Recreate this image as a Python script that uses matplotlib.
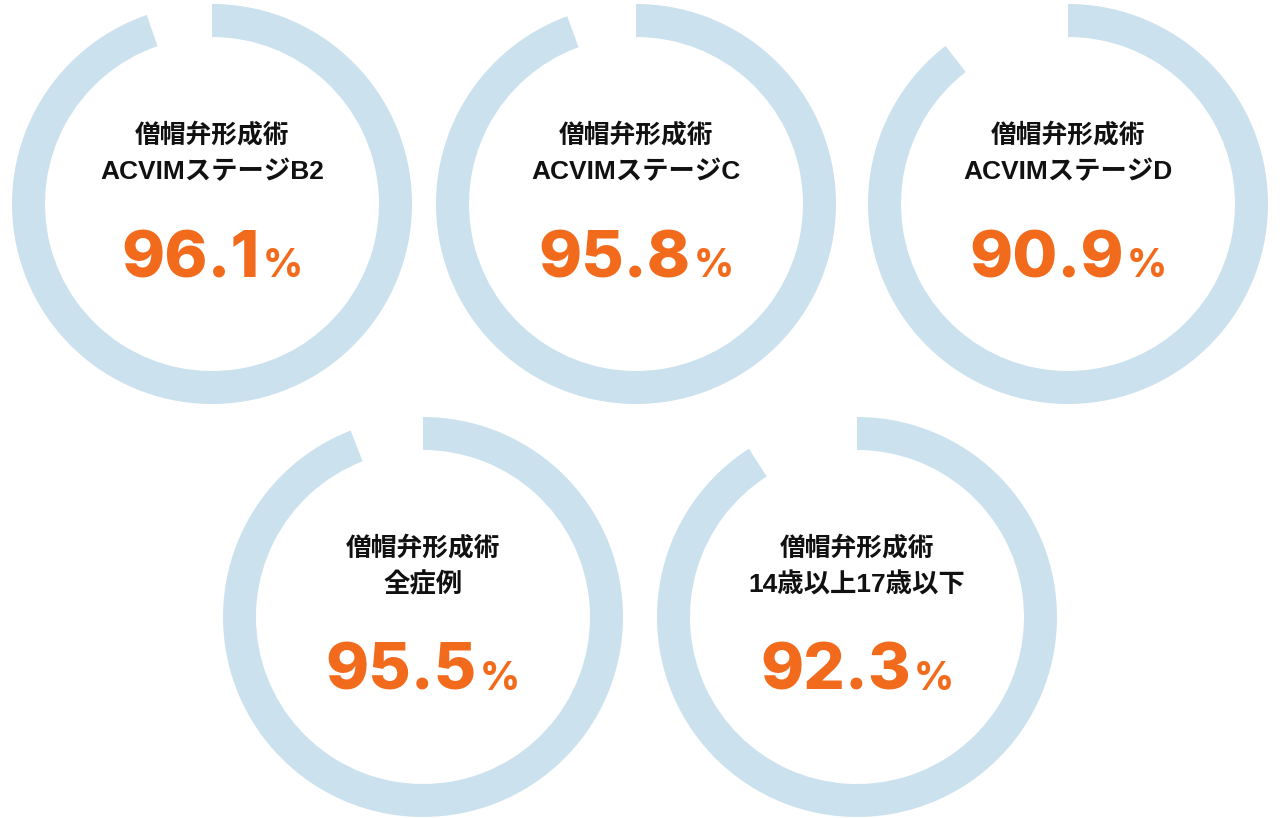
import matplotlib
matplotlib.use('Agg')
import matplotlib.pyplot as plt
from matplotlib.patches import Wedge

# data
titles = ['僧帽弁形成術\nACVIMステージB2',
          '僧帽弁形成術\nACVIMステージC',
          '僧帽弁形成術\nACVIMステージD',
          '僧帽弁形成術\n全症例',
          '僧帽弁形成術\n14歳以上17歳以下']
rates = [96.1, 95.8, 90.9, 95.5, 92.3]

# layout (pixel coords, y up)
W, H = 1280, 818
centers = [(212, 614), (636, 614), (1068, 614), (423, 201), (857, 201)]
R = 200
band = 33
gap_pad = 5  # extra visual gap in degrees

ring_color = '#cce1ee'
num_color = '#f26b1d'

plt.rcParams['font.family'] = ['Noto Sans CJK JP', 'DejaVu Sans']
title_fam = ['Liberation Sans', 'Noto Sans CJK JP']
num_font = 'Inter'

fig = plt.figure(figsize=(12.8, 8.18), dpi=100)
ax = fig.add_axes([0, 0, 1, 1])
ax.set_xlim(0, W)
ax.set_ylim(0, H)
ax.set_aspect('equal')
ax.axis('off')

num_texts = []
for (cx, cy), title, rate in zip(centers, titles, rates):
    # arc runs clockwise from 12 o'clock
    t1 = 90 - 360 * rate / 100 + gap_pad
    ax.add_patch(Wedge((cx, cy), R, t1, 90, width=band, color=ring_color, lw=0))
    l1, l2 = title.split('\n')
    ax.text(cx, cy + 69, l1, ha='center', va='center', fontsize=18.5,
            fontweight='bold', color='#111111')
    ax.text(cx, cy + 32, l2, ha='center', va='center', fontsize=19,
            fontweight='bold', color='#111111', family=title_fam)
    t = ax.text(cx, cy - 73, f'{rate:.1f}', ha='center', va='baseline',
                fontsize=47, fontweight='heavy', fontstyle='normal',
                family=num_font, color=num_color)
    num_texts.append(t)

fig.canvas.draw()
inv = ax.transData.inverted()
for t, (cx, cy) in zip(num_texts, centers):
    p = ax.text(0, cy - 73, '%', ha='left', va='baseline', fontsize=28,
                fontweight='heavy', fontstyle='normal', family=num_font,
                color=num_color)
    wn = t.get_window_extent().width
    wp = p.get_window_extent().width
    total = wn + wp + 3
    x0 = ax.transData.transform((cx, 0))[0] - total / 2
    t.set_ha('left')
    t.set_x(inv.transform((x0, 0))[0])
    p.set_x(inv.transform((x0 + wn + 3, 0))[0])

fig.savefig('out.png', dpi=100, facecolor='white')
